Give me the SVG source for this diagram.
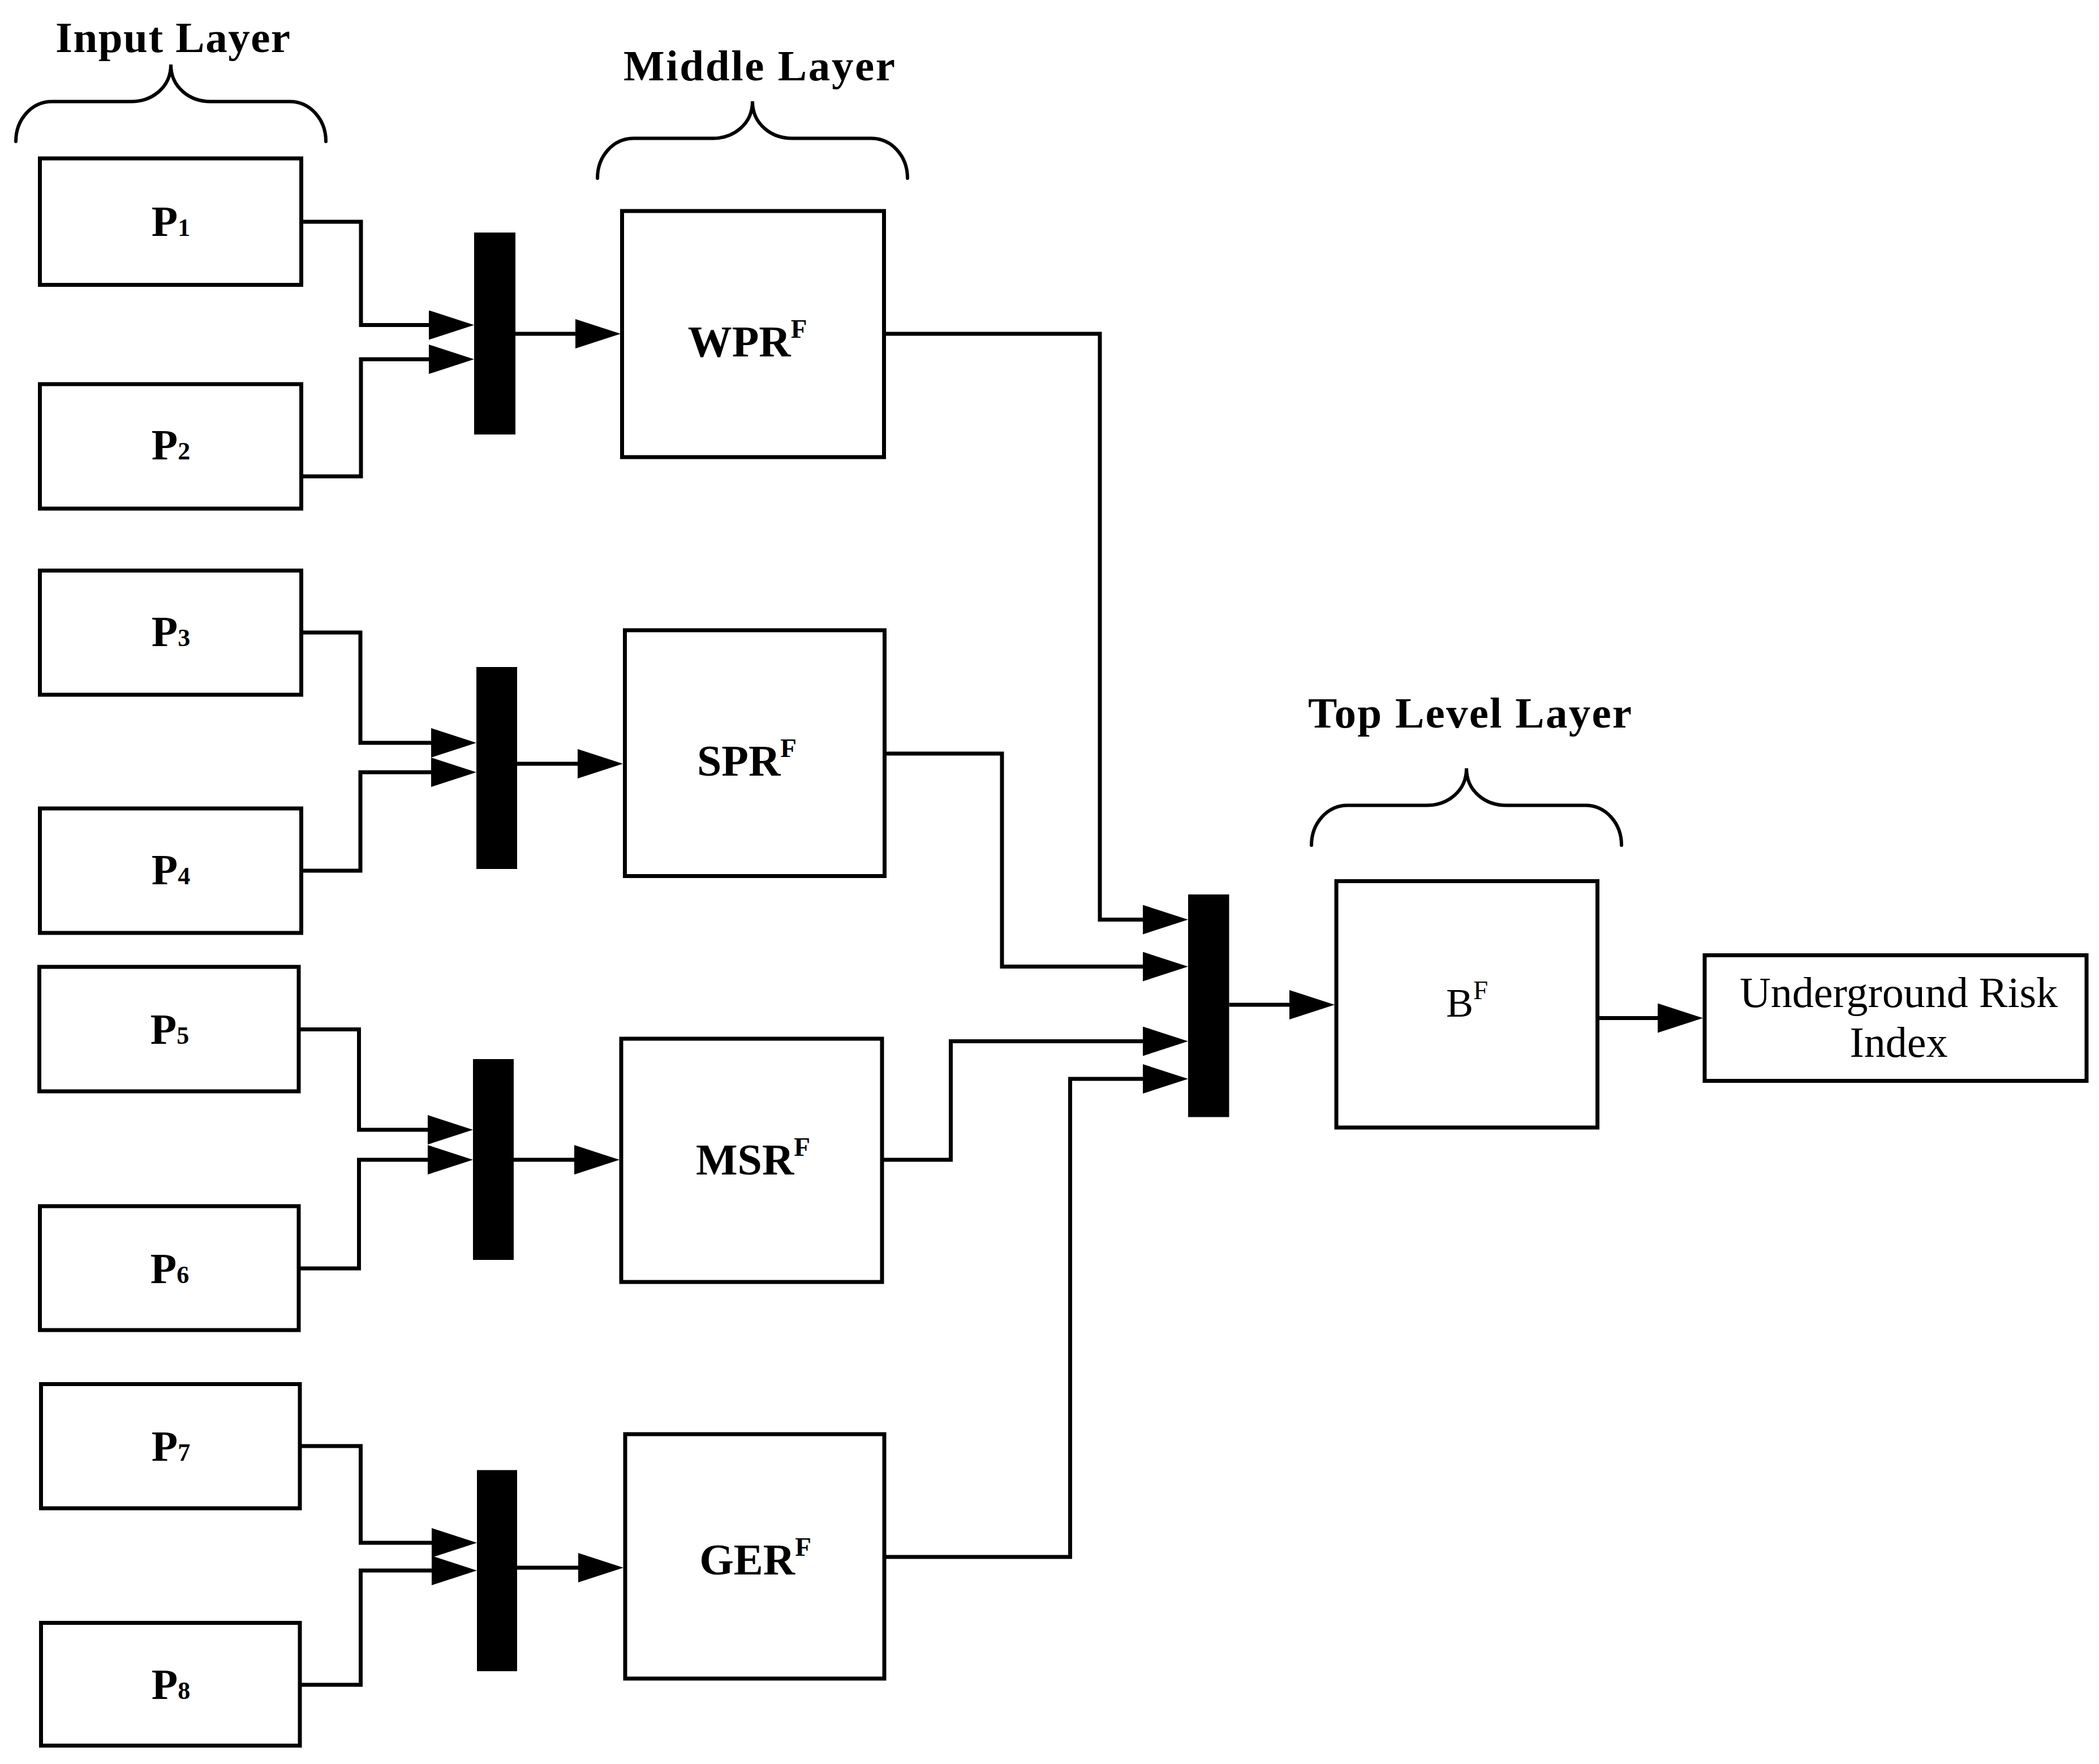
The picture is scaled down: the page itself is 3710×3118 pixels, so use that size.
<svg xmlns="http://www.w3.org/2000/svg" width="3710" height="3118" viewBox="0 0 3710 3118">
<style>
.box{fill:#fff;stroke:#000;stroke-width:7}
.bar{fill:#000}
.wire{fill:none;stroke:#000;stroke-width:7;stroke-linejoin:miter;marker-end:url(#ah)}
.brace{fill:none;stroke:#000;stroke-width:6;stroke-linecap:round}
.t{font-family:"Liberation Serif","Times New Roman",serif;fill:#000;text-anchor:middle}
.title{font-size:77px;font-weight:bold}
.pl{font-size:76px;font-weight:bold}
.sub{font-size:44px;font-weight:bold}
.ml{font-size:78px;font-weight:bold}
.sup{font-size:47px;font-weight:bold}
.supn{font-size:47px;font-weight:normal}
.rl{font-size:76px;font-weight:normal}
</style>
<defs>
<marker id="ah" markerUnits="userSpaceOnUse" markerWidth="80" markerHeight="52" refX="0" refY="26" orient="auto">
<path d="M0,0 L80,26 L0,52 Z" fill="#000"/>
</marker>
<path id="brace" class="brace" d="M-274,136 C-274,97 -246,65.5 -210,65.5 L-70,65.5 C-34,65.5 0,41 0,0 C0,41 34,65.5 70,65.5 L210,65.5 C246,65.5 274,97 274,136"/>
</defs>
<rect width="3710" height="3118" fill="#fff"/>

<g id="layer-labels">
<text class="t title" x="305.5" y="91.5" textLength="415" lengthAdjust="spacing">Input Layer</text>
<use href="#brace" transform="translate(302,114)"/>
<text class="t title" x="1342" y="142" textLength="480" lengthAdjust="spacing">Middle Layer</text>
<use href="#brace" transform="translate(1330,179)"/>
<text class="t title" x="2598" y="1286" textLength="572" lengthAdjust="spacing">Top Level Layer</text>
<use href="#brace" transform="translate(2592,1358)"/>
</g>

<g id="connectors">
<path class="wire" d="M532.5,392 H638 V574.5 H758"/>
<path class="wire" d="M532.5,842 H638 V635 H758"/>
<path class="wire" d="M911,590 H1017"/>
<path class="wire" d="M532,1118 H637 V1313 H762"/>
<path class="wire" d="M532,1539 H637 V1365 H762"/>
<path class="wire" d="M914,1350 H1021"/>
<path class="wire" d="M528,1819.5 H634.5 V1997 H756"/>
<path class="wire" d="M528,2242 H634.5 V2050 H756"/>
<path class="wire" d="M908,2050 H1015"/>
<path class="wire" d="M530,2556 H637.5 V2727 H763"/>
<path class="wire" d="M530,2978 H637.5 V2776 H763"/>
<path class="wire" d="M914,2771 H1022"/>
<path class="wire" d="M1562.5,590 H1944 V1625.5 H2020"/>
<path class="wire" d="M1563.5,1332 H1771 V1708.5 H2020"/>
<path class="wire" d="M1559,2050 H1680.5 V1840.5 H2020"/>
<path class="wire" d="M1563,2752 H1891.5 V1907 H2020"/>
<path class="wire" d="M2172.5,1776 H2279"/>
<path class="wire" d="M2823.5,1799.5 H2930"/>
</g>

<g id="P1"><rect class="box" x="70.5" y="280" width="462" height="223.5"/><text class="t pl" x="302" y="417">P<tspan class="sub">1</tspan></text></g>
<g id="P2"><rect class="box" x="70.5" y="679" width="462" height="220"/><text class="t pl" x="302" y="812">P<tspan class="sub">2</tspan></text></g>
<g id="P3"><rect class="box" x="70.5" y="1008.5" width="462" height="219.5"/><text class="t pl" x="302" y="1142">P<tspan class="sub">3</tspan></text></g>
<g id="P4"><rect class="box" x="70.5" y="1429" width="462" height="220"/><text class="t pl" x="302" y="1563">P<tspan class="sub">4</tspan></text></g>
<g id="P5"><rect class="box" x="69.5" y="1709" width="458.5" height="220"/><text class="t pl" x="300" y="1845">P<tspan class="sub">5</tspan></text></g>
<g id="P6"><rect class="box" x="70.5" y="2132" width="457.5" height="219"/><text class="t pl" x="300" y="2268">P<tspan class="sub">6</tspan></text></g>
<g id="P7"><rect class="box" x="72.5" y="2446.5" width="457.5" height="219.5"/><text class="t pl" x="302" y="2581.5">P<tspan class="sub">7</tspan></text></g>
<g id="P8"><rect class="box" x="72.5" y="2868.5" width="457.5" height="217"/><text class="t pl" x="302" y="3003">P<tspan class="sub">8</tspan></text></g>

<g id="bar1"><rect class="bar" x="838" y="411" width="73" height="357"/></g>
<g id="bar2"><rect class="bar" x="842" y="1179" width="72" height="357"/></g>
<g id="bar3"><rect class="bar" x="836" y="1872" width="72" height="355"/></g>
<g id="bar4"><rect class="bar" x="843" y="2598.5" width="71" height="355.5"/></g>

<g id="WPR"><rect class="box" x="1099.5" y="373" width="463" height="435"/><text class="t ml" x="1321" y="629.5">WPR<tspan class="sup" dy="-33">F</tspan></text></g>
<g id="SPR"><rect class="box" x="1104.5" y="1114" width="459" height="434.5"/><text class="t ml" x="1320" y="1371">SPR<tspan class="sup" dy="-33">F</tspan></text></g>
<g id="MSR"><rect class="box" x="1098" y="1836" width="461" height="430"/><text class="t ml" x="1331" y="2076">MSR<tspan class="sup" dy="-33">F</tspan></text></g>
<g id="GER"><rect class="box" x="1105" y="2535" width="458" height="432"/><text class="t ml" x="1335" y="2783">GER<tspan class="sup" dy="-33">F</tspan></text></g>

<g id="merge-bar"><rect class="bar" x="2100" y="1581" width="72.5" height="393.5"/></g>

<g id="BF"><rect class="box" x="2362" y="1557.5" width="461.5" height="435.5"/><text class="t rl" x="2593" y="1797" style="font-size:72px">B<tspan class="supn" dy="-31">F</tspan></text></g>

<g id="URI"><rect class="box" x="3013" y="1688.5" width="675" height="222"/>
<text class="t rl" x="3356" y="1780">Underground Risk</text>
<text class="t rl" x="3356" y="1867.5">Index</text></g>
</svg>
